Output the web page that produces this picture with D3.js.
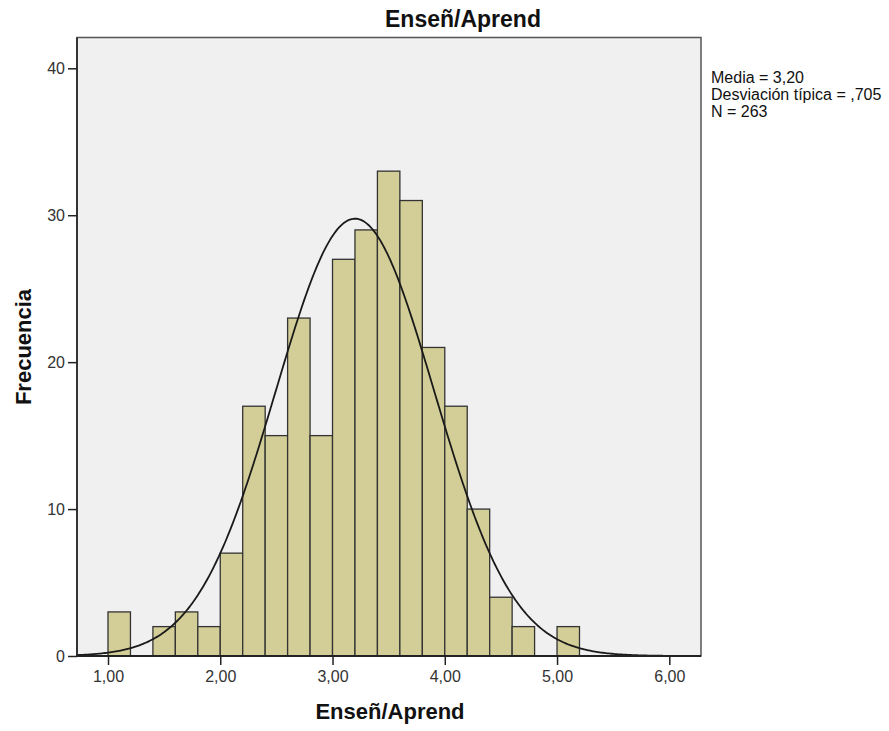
<!DOCTYPE html>
<html>
<head>
<meta charset="utf-8">
<script src="https://cdn.jsdelivr.net/npm/d3@7"></script>
<style>
  html, body { margin: 0; padding: 0; background: #fff; }
  svg { display: block; font-family: "Liberation Sans", Arial, sans-serif; }
</style>
</head>
<body>
<svg id="chart" width="889" height="731"></svg>
<script>
// Data
const binStarts = [1.0, 1.2, 1.4, 1.6, 1.8, 2.0, 2.2, 2.4, 2.6, 2.8, 3.0, 3.2, 3.4, 3.6, 3.8, 4.0, 4.2, 4.4, 4.6, 4.8, 5.0];
const counts    = [3,   0,   2,   3,   2,   7,   17,  15,  23,  15,  27,  29,  33,  31,  21,  17,  10,  4,   2,   0,   2];
const binWidth = 0.2;
const xTicks = [1, 2, 3, 4, 5, 6];
const xTickLabels = ["1,00", "2,00", "3,00", "4,00", "5,00", "6,00"];
const yTicks = [0, 10, 20, 30, 40];
const statsLabels = ["Media = 3,20", "Desviación típica = ,705", "N = 263"];
const mean = 3.20, sd = 0.705, nTotal = 263;
const titleText = "Enseñ/Aprend";
const xTitle = "Enseñ/Aprend";
const yTitle = "Frecuencia";

const svg = d3.select("#chart");
const plot = {left: 77, right: 701, top: 37.5, bottom: 656};

const x = d3.scaleLinear().domain([1, 6]).range([108, 669.3]);
const y = d3.scaleLinear().domain([0, 40]).range([656, 68.3]);

// background
svg.append("rect")
  .attr("x", plot.left).attr("y", plot.top)
  .attr("width", plot.right - plot.left).attr("height", plot.bottom - plot.top)
  .attr("fill", "#f0f0f0");

// bars
svg.append("g").selectAll("rect")
  .data(binStarts.map((s, i) => ({s, c: counts[i]})).filter(d => d.c > 0))
  .join("rect")
  .attr("x", d => x(d.s))
  .attr("y", d => y(d.c))
  .attr("width", d => x(d.s + binWidth) - x(d.s))
  .attr("height", d => y(0) - y(d.c))
  .attr("fill", "#d3ce97")
  .attr("stroke", "#333")
  .attr("stroke-width", 1.3);

// normal curve
const x0 = x.invert(plot.left), x1 = x.invert(plot.right);
const pts = d3.range(0, 401).map(i => {
  const xv = x0 + (x1 - x0) * i / 400;
  const z = (xv - mean) / sd;
  const yv = nTotal * binWidth * Math.exp(-0.5 * z * z) / (sd * Math.sqrt(2 * Math.PI));
  return [xv, yv];
});
svg.append("path")
  .attr("d", d3.line().x(d => x(d[0])).y(d => y(d[1])).curve(d3.curveLinear)(pts))
  .attr("fill", "none")
  .attr("stroke", "#1a1a1a")
  .attr("stroke-width", 1.8);

// frame
svg.append("rect")
  .attr("x", plot.left).attr("y", plot.top)
  .attr("width", plot.right - plot.left).attr("height", plot.bottom - plot.top)
  .attr("fill", "none")
  .attr("stroke", "#555")
  .attr("stroke-width", 1.5);
svg.append("line")
  .attr("x1", plot.left).attr("x2", plot.left).attr("y1", plot.top).attr("y2", plot.bottom)
  .attr("stroke", "#333").attr("stroke-width", 2);
svg.append("line")
  .attr("x1", plot.left).attr("x2", plot.right).attr("y1", plot.bottom).attr("y2", plot.bottom)
  .attr("stroke", "#222").attr("stroke-width", 2);

// x axis
const xAxis = d3.axisBottom(x).tickValues(xTicks).tickSize(9).tickPadding(6)
  .tickFormat((d, i) => xTickLabels[i]);
const gx = svg.append("g").attr("transform", `translate(0,${plot.bottom})`).call(xAxis);
gx.select(".domain").remove();
gx.selectAll("line").attr("stroke", "#222").attr("stroke-width", 1.5);
gx.selectAll("text").attr("font-size", 16).attr("fill", "#333")
  .attr("font-family", "Liberation Sans, Arial, sans-serif");

// y axis
const yAxis = d3.axisLeft(y).tickValues(yTicks).tickSize(9).tickPadding(3);
const gy = svg.append("g").attr("transform", `translate(${plot.left},0)`).call(yAxis);
gy.select(".domain").remove();
gy.selectAll("line").attr("stroke", "#222").attr("stroke-width", 1.5);
gy.selectAll("text").attr("font-size", 16).attr("fill", "#333")
  .attr("font-family", "Liberation Sans, Arial, sans-serif");

// titles
svg.append("text").attr("x", 463).attr("y", 27).attr("text-anchor", "middle")
  .attr("font-size", 23).attr("font-weight", "bold").attr("fill", "#111").text(titleText);
svg.append("text").attr("x", 390).attr("y", 719).attr("text-anchor", "middle")
  .attr("font-size", 22).attr("font-weight", "bold").attr("fill", "#111").text(xTitle);
svg.append("text").attr("transform", "translate(31,347) rotate(-90)").attr("text-anchor", "middle")
  .attr("font-size", 22).attr("font-weight", "bold").attr("fill", "#111").text(yTitle);

// stats legend
svg.append("g").selectAll("text").data(statsLabels).join("text")
  .attr("x", 711).attr("y", (d, i) => 83.3 + i * 16.7)
  .attr("font-size", 16).attr("fill", "#111").text(d => d);
</script>
</body>
</html>
